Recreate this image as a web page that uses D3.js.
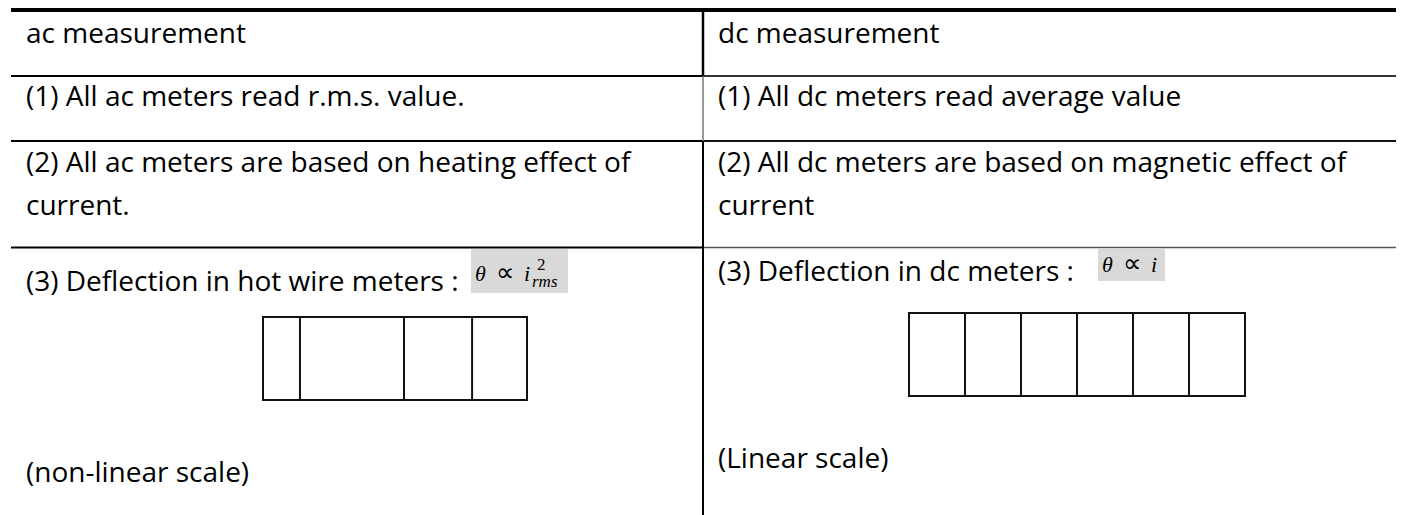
<!DOCTYPE html>
<html>
<head>
<meta charset="utf-8">
<script src="https://cdn.jsdelivr.net/npm/d3@7"></script>
<style>
  body { margin: 0; background: #fff; }
  text { font-family: "Open Sans", sans-serif; fill: #000; }
  .math { font-family: "Liberation Serif", "Times New Roman", serif; }
</style>
</head>
<body>
<div id="chart"></div>
<script>
// column headers
var headers = ["ac measurement", "dc measurement"];

// body rows for each column (a row may wrap onto two lines)
var acRows = [
    ["(1) All ac meters read r.m.s. value."],
    ["(2) All ac meters are based on heating effect of", "current."],
    ["(3) Deflection in hot wire meters :"]
];
var dcRows = [
    ["(1) All dc meters read average value"],
    ["(2) All dc meters are based on magnetic effect of", "current"],
    ["(3) Deflection in dc meters :"]
];

var scaleNotes = ["(non-linear scale)", "(Linear scale)"];

// dial divisions: ac in percent of full deflection, dc in equal steps
var acDivisions = [0, 14, 53.4, 79.2, 100];
var dcDivisions = [0, 1, 2, 3, 4, 5, 6];

// set the dimensions of the page
var width = 1401,
    height = 515,
    tableLeft = 11,
    tableRight = 1395,
    pad = 15;

var svg = d3.select("#chart")
    .append("svg")
    .attr("width", width)
    .attr("height", height);

// one band per column
var col = d3.scaleBand()
    .domain(headers)
    .range([tableLeft, tableRight]);

var split = col(headers[1]);

// row baselines for the text
var headerY = 43,
    rowY = [[106], [172, 215]],
    row3Y = [291, 281],
    noteY = [482, 468];

// header text
svg.selectAll(".head")
    .data(headers)
    .enter().append("text")
    .attr("class", "head")
    .attr("x", function(d) { return col(d) + pad; })
    .attr("y", headerY)
    .style("font-size", "28px")
    .text(function(d) { return d; });

// rows 1 and 2, then the deflection line of row 3
[acRows, dcRows].forEach(function(rows, c) {
    var x0 = col(headers[c]) + pad;
    rows.forEach(function(lines, r) {
        lines.forEach(function(line, k) {
            svg.append("text")
                .attr("x", x0)
                .attr("y", r < 2 ? rowY[r][k] : row3Y[c])
                .style("font-size", "28px")
                .text(line);
        });
    });
    svg.append("text")
        .attr("x", x0)
        .attr("y", noteY[c])
        .style("font-size", "28px")
        .text(scaleNotes[c]);
});

// table rules
var rules = svg.append("g").attr("fill", "none");

rules.append("line")
    .attr("x1", tableLeft).attr("x2", tableRight + 1)
    .attr("y1", 10).attr("y2", 10)
    .attr("stroke", "#000").attr("stroke-width", 4);

var hRules = [
    {y: 76, left: "#000", right: "#333", w: 2},
    {y: 141, left: "#000", right: "#111", w: 2},
    {y: 247.5, left: "#000", right: "#555", w: 1.6}
];
hRules.forEach(function(h) {
    rules.append("line")
        .attr("x1", tableLeft).attr("x2", split)
        .attr("y1", h.y).attr("y2", h.y)
        .attr("stroke", h.left).attr("stroke-width", 2);
    rules.append("line")
        .attr("x1", split).attr("x2", tableRight + 1)
        .attr("y1", h.y).attr("y2", h.y)
        .attr("stroke", h.right).attr("stroke-width", h.w);
});

// column divider (lighter in the first body row)
rules.append("line")
    .attr("x1", split).attr("x2", split)
    .attr("y1", 10).attr("y2", 76)
    .attr("stroke", "#000").attr("stroke-width", 2.5);
rules.append("line")
    .attr("x1", split).attr("x2", split)
    .attr("y1", 76).attr("y2", 141)
    .attr("stroke", "#777").attr("stroke-width", 1.5);
rules.append("line")
    .attr("x1", split).attr("x2", split)
    .attr("y1", 141).attr("y2", height)
    .attr("stroke", "#000").attr("stroke-width", 2);

// formula boxes
function formula(x, y, w, h, base, hasPower) {
    var g = svg.append("g");
    g.append("rect")
        .attr("x", x).attr("y", y)
        .attr("width", w).attr("height", h)
        .attr("fill", "#d9d9d9");
    g.append("text").attr("class", "math")
        .attr("x", x + 4).attr("y", base)
        .style("font-size", "22px").style("font-style", "italic")
        .text("\u03B8");
    g.append("text").attr("class", "math")
        .attr("x", x + 25).attr("y", base)
        .style("font-size", "26px")
        .text("\u221D");
    g.append("text").attr("class", "math")
        .attr("x", x + 53).attr("y", base)
        .style("font-size", "22px").style("font-style", "italic")
        .text("i");
    if (hasPower) {
        g.append("text").attr("class", "math")
            .attr("x", x + 66).attr("y", base - 11)
            .style("font-size", "17px")
            .text("2");
        g.append("text").attr("class", "math")
            .attr("x", x + 61).attr("y", base + 6)
            .style("font-size", "17px").style("font-style", "italic")
            .text("rms");
    }
}
formula(471, 249, 97, 44, 281, true);
formula(1098, 249, 67, 32, 272, false);

// meter dials
function dial(divs, x0, x1, y0, y1) {
    var x = d3.scaleLinear()
        .domain(d3.extent(divs))
        .range([x0, x1]);
    var g = svg.append("g")
        .attr("stroke", "#111")
        .attr("stroke-width", 2)
        .attr("fill", "none");
    g.append("rect")
        .attr("x", x0).attr("y", y0)
        .attr("width", x1 - x0).attr("height", y1 - y0);
    g.selectAll("line")
        .data(divs.slice(1, -1))
        .enter().append("line")
        .attr("x1", function(d) { return x(d); })
        .attr("x2", function(d) { return x(d); })
        .attr("y1", y0).attr("y2", y1);
}
dial(acDivisions, 263, 527, 317, 400);
dial(dcDivisions, 909, 1245, 313, 396);
</script>
</body>
</html>
